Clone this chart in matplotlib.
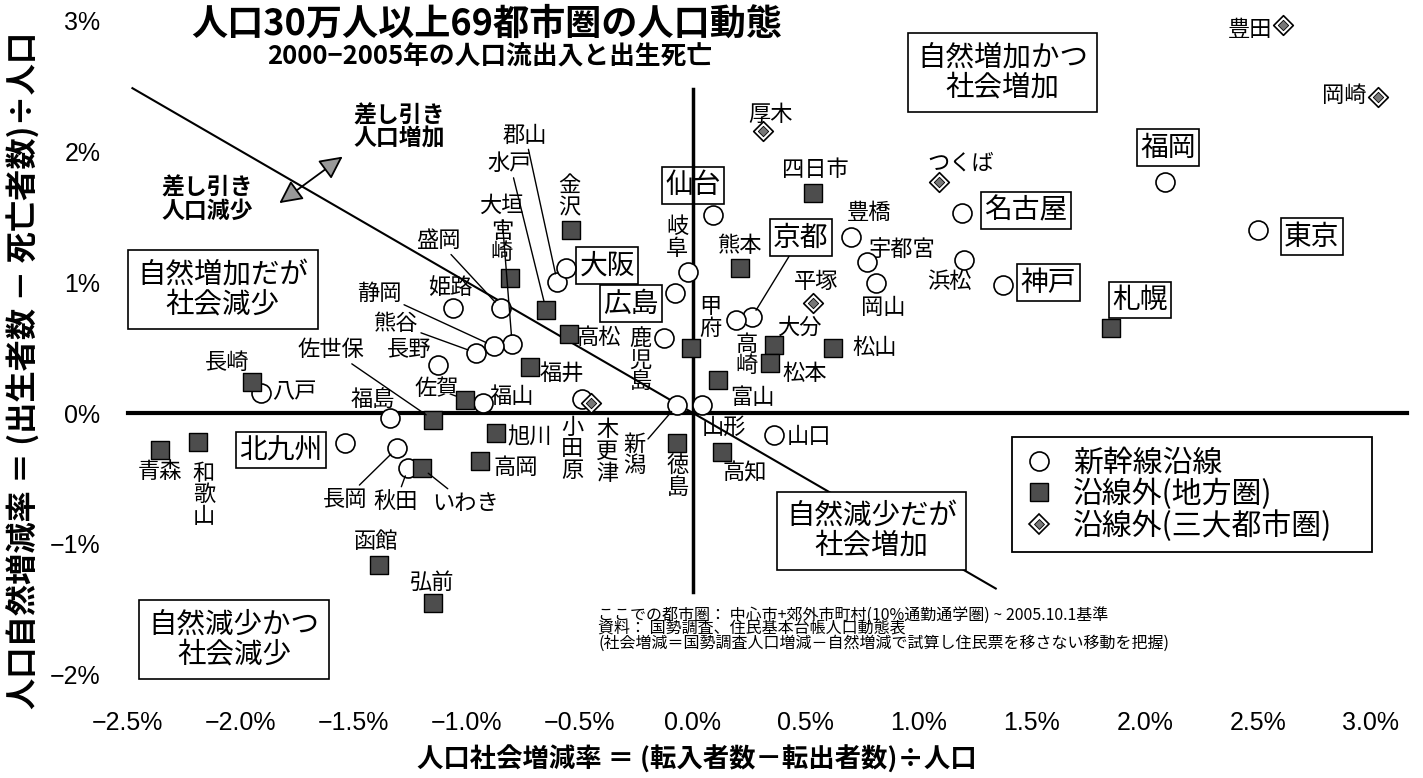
import matplotlib
matplotlib.use("Agg")
import matplotlib.pyplot as plt
from matplotlib.lines import Line2D
from matplotlib.legend_handler import HandlerTuple

plt.rcParams['font.family'] = ['Noto Sans CJK JP', 'DejaVu Sans']

# ---------------- data ----------------
# 新幹線沿線 (circles)
shin_names = ['仙台', '郡山', '大阪', '姫路', '盛岡', '大垣', '静岡', '熊谷', '長野', '福山',
              '福島', '八戸', '北九州', '長岡', '秋田', '広島', '岐阜', '鹿児島', '新潟', '山形',
              '小田原', '京都', '高崎', '名古屋', '豊橋', '宇都宮', '岡山', '浜松', '神戸', '山口',
              '福岡', '東京']
shin_x = [0.09, -0.60, -0.56, -1.06, -0.85, -0.80, -0.88, -0.96, -1.13, -0.93,
          -1.34, -1.91, -1.54, -1.31, -1.26, -0.08, -0.02, -0.13, -0.07, 0.04,
          -0.49, 0.26, 0.19, 1.19, 0.70, 0.77, 0.81, 1.20, 1.37, 0.36,
          2.09, 2.50]
shin_y = [1.51, 1.00, 1.11, 0.80, 0.80, 0.53, 0.51, 0.46, 0.37, 0.08,
          -0.04, 0.15, -0.23, -0.27, -0.42, 0.92, 1.08, 0.57, 0.06, 0.06,
          0.11, 0.73, 0.71, 1.53, 1.34, 1.15, 0.99, 1.17, 0.98, -0.17,
          1.76, 1.40]

# 沿線外(地方圏) (squares)
local_names = ['金沢', '水戸', '宮崎', '佐世保', '佐賀', '長崎', '青森', '和歌山', 'いわき', '函館',
               '弘前', '高松', '福井', '甲府', '旭川', '高岡', '徳島', '富山', '高知', '大分',
               '松本', '熊本', '四日市', '松山', '札幌']
local_x = [-0.54, -0.65, -0.81, -1.15, -1.01, -1.95, -2.36, -2.19, -1.20, -1.39,
           -1.15, -0.55, -0.72, -0.01, -0.87, -0.94, -0.07, 0.11, 0.13, 0.36,
           0.34, 0.21, 0.53, 0.62, 1.85]
local_y = [1.40, 0.79, 1.03, -0.05, 0.10, 0.24, -0.28, -0.22, -0.42, -1.16,
           -1.45, 0.60, 0.35, 0.50, -0.15, -0.37, -0.23, 0.25, -0.30, 0.52,
           0.38, 1.11, 1.68, 0.50, 0.65]

# 沿線外(三大都市圏) (diamonds)
metro_names = ['厚木', '木更津', 'つくば', '平塚', '豊田', '岡崎']
metro_x = [0.31, -0.45, 1.09, 0.53, 2.61, 3.03]
metro_y = [2.15, 0.08, 1.76, 0.84, 2.96, 2.41]

x_ticks = [-2.5, -2.0, -1.5, -1.0, -0.5, 0.0, 0.5, 1.0, 1.5, 2.0, 2.5, 3.0]
x_tick_labels = ['−2.5%', '−2.0%', '−1.5%', '−1.0%', '−0.5%', '0.0%',
                 '0.5%', '1.0%', '1.5%', '2.0%', '2.5%', '3.0%']
y_ticks = [-2, -1, 0, 1, 2, 3]
y_tick_labels = ['−2%', '−1%', '0%', '1%', '2%', '3%']

legend_labels = ['新幹線沿線', '沿線外(地方圏)', '沿線外(三大都市圏)']

# label layout: offset in pixels (dx, dy up) from the marker, and style
label_layout = {
    '仙台': (-20, 30, 'box'), '郡山': (-32, 147, 'lead'), '大阪': (41, 2, 'box'),
    '姫路': (-3, 21, 'plain'), '盛岡': (-63, 68, 'lead'), '大垣': (-11, 138, 'lead'),
    '静岡': (-115, 53, 'lead'), '熊谷': (-80, 29, 'lead'), '長野': (-28, 15, 'plain'),
    '福山': (29, 6, 'plain'), '福島': (-17, 19, 'plain'), '八戸': (33, 2, 'plain'),
    '北九州': (-64, -7, 'box'), '長岡': (-52, -51, 'lead'), '秋田': (-12, -33, 'lead'),
    '広島': (-44, -11, 'box'), '岐阜': (-11, 34, 'vert'), '鹿児島': (-23, -22, 'vert'),
    '新潟': (-43, -50, 'vlead'), '山形': (22, -22, 'plain'), '小田原': (-10, -50, 'vert'),
    '京都': (49, 80, 'boxlead'), '高崎': (11, -35, 'vert'), '名古屋': (64, 2, 'box'),
    '豊橋': (18, 25, 'plain'), '宇都宮': (35, 12, 'plain'), '岡山': (7, -24, 'plain'),
    '浜松': (-15, -22, 'plain'), '神戸': (46, 2, 'box'), '山口': (35, -1, 'plain'),
    '福岡': (3, 35, 'box'), '東京': (54, -7, 'box'),
    '金沢': (-2, 33, 'vert'), '水戸': (-36, 146, 'lead'), '宮崎': (-8, 36, 'vert'),
    '佐世保': (-102, 70, 'lead'), '佐賀': (-28, 11, 'plain'), '長崎': (-25, 19, 'plain'),
    '青森': (0, -22, 'plain'), '和歌山': (6, -53, 'vert'), 'いわき': (44, -35, 'lead'),
    '函館': (-3, 23, 'plain'), '弘前': (-1, 21, 'plain'), '高松': (30, -3, 'plain'),
    '福井': (32, -6, 'plain'), '甲府': (20, 30, 'vert'), '旭川': (33, -4, 'plain'),
    '高岡': (35, -6, 'plain'), '徳島': (1, -34, 'vert'), '富山': (35, -17, 'plain'),
    '高知': (23, -21, 'plain'), '大分': (25, 18, 'plain'), '松本': (35, -10, 'plain'),
    '熊本': (0, 22, 'plain'), '四日市': (3, 23, 'plain'), '松山': (42, 0, 'plain'),
    '札幌': (29, 28, 'box'),
    '厚木': (8, 17, 'plain'), '木更津': (16, -49, 'vert'), 'つくば': (22, 19, 'plain'),
    '平塚': (3, 22, 'plain'), '豊田': (-33, -4, 'plain'), '岡崎': (-33, 2, 'plain'),
}

# ---------------- figure ----------------
W, H = 1423, 778
fig = plt.figure(figsize=(W / 100, H / 100), dpi=100)
fig.patch.set_facecolor('white')
ax = fig.add_axes([120 / W, 1 - 700 / H, 1290 / W, 695 / H])
ax.set_xlim(-2.535, 3.173)
ax.set_ylim(-2.191, 3.115)
for s in ax.spines.values():
    s.set_visible(False)

ax.set_xticks(x_ticks)
ax.set_xticklabels(x_tick_labels, fontfamily='Liberation Sans', fontsize=18)
ax.set_yticks(y_ticks)
ax.set_yticklabels(y_tick_labels, fontfamily='Liberation Sans', fontsize=18)
ax.tick_params(axis='x', length=0, pad=8)
ax.tick_params(axis='y', length=0, pad=14)

# axes cross lines and zero-net-change line (y = -x)
ax.plot([-2.50, 3.16], [0, 0], color='black', lw=3, zorder=2)
ax.plot([0, 0], [-1.37, 2.47], color='black', lw=2.5, zorder=2)
ax.plot([-2.48, 1.34], [2.48, -1.34], color='black', lw=1.5, zorder=2)

# markers
ax.scatter(shin_x, shin_y, s=187, marker='o', facecolor='white', edgecolor='black',
           linewidths=1.2, zorder=4)
ax.scatter(local_x, local_y, s=169, marker='s', facecolor='#4d4d4d', edgecolor='black',
           linewidths=1.0, zorder=4)
ax.scatter(metro_x, metro_y, s=100, marker='D', facecolor='white', edgecolor='black',
           linewidths=1.2, zorder=4)
ax.scatter(metro_x, metro_y, s=28, marker='D', facecolor='#777777', edgecolor='black',
           linewidths=0.6, zorder=5)


def put_labels(names, xs, ys):
    for n, x, y in zip(names, xs, ys):
        dx, dy, kind = label_layout[n]
        txt = '\n'.join(n) if kind in ('vert', 'vlead') else n
        kw = dict(xy=(x, y), xytext=(dx * 0.72, dy * 0.72), textcoords='offset points',
                  ha='center', va='center', fontsize=16, zorder=6, linespacing=0.92)
        if 'box' in kind:
            kw['fontsize'] = 20
            kw['bbox'] = dict(boxstyle='square,pad=0.12', fc='none', ec='black', lw=1.2)
        if kind in ('lead', 'vlead', 'boxlead'):
            kw['arrowprops'] = dict(arrowstyle='-', lw=1.0, color='black',
                                    shrinkA=0, shrinkB=6)
        ax.annotate(txt, **kw)


put_labels(shin_names, shin_x, shin_y)
put_labels(local_names, local_x, local_y)
put_labels(metro_names, metro_x, metro_y)

# quadrant boxes
quad_box = dict(boxstyle='square,pad=0.33', fc='white', ec='black', lw=1.2)
ax.text(1.37, 2.60, '自然増加かつ\n社会増加', ha='center', va='center', fontsize=20.5,
        linespacing=1.0, bbox=quad_box, zorder=7)
ax.text(-2.08, 0.94, '自然増加だが\n社会減少', ha='center', va='center', fontsize=20.5,
        linespacing=1.0, bbox=quad_box, zorder=7)
ax.text(-2.03, -1.73, '自然減少かつ\n社会減少', ha='center', va='center', fontsize=20.5,
        linespacing=1.0, bbox=quad_box, zorder=7)
ax.text(0.79, -0.90, '自然減少だが\n社会増加', ha='center', va='center', fontsize=20.5,
        linespacing=1.0, bbox=quad_box, zorder=7)

# direction arrow
ax.annotate('', xy=(-1.54, 1.97), xytext=(-1.84, 1.59),
            arrowprops=dict(arrowstyle='<|-|>,head_length=0.7,head_width=0.35',
                            mutation_scale=20, lw=1.3, color='black', fc='#999999'),
            zorder=6)
ax.text(-1.30, 2.18, '差し引き\n人口増加', ha='center', va='center', fontsize=16.5,
        fontweight='bold', linespacing=1.0, zorder=6)
ax.text(-2.15, 1.63, '差し引き\n人口減少', ha='center', va='center', fontsize=16.5,
        fontweight='bold', linespacing=1.0, zorder=6)

# legend (expanded to the reference box width)
h_circle = Line2D([], [], marker='o', ms=13.7, mfc='white', mec='black', mew=1.2, ls='')
h_square = Line2D([], [], marker='s', ms=13, mfc='#4d4d4d', mec='black', mew=1.0, ls='')
h_dia_o = Line2D([], [], marker='D', ms=10, mfc='white', mec='black', mew=1.2, ls='')
h_dia_i = Line2D([], [], marker='D', ms=5.3, mfc='#777777', mec='black', mew=0.6, ls='')
leg = ax.legend([h_circle, h_square, (h_dia_o, h_dia_i)], legend_labels,
                handler_map={tuple: HandlerTuple(ndivide=1)},
                loc='upper left',
                bbox_to_anchor=(1012 / W, 1 - 560 / H, 360 / W, 123 / H),
                bbox_transform=fig.transFigure, borderaxespad=0, mode='expand',
                fontsize=21.5, frameon=True, fancybox=False, edgecolor='black',
                framealpha=1, handlelength=1.1, handletextpad=0.6,
                labelspacing=0.0, borderpad=0.35)
leg.get_frame().set_linewidth(1.3)
leg.set_zorder(8)

# titles
fig.text(487 / W, 1 - 24 / H, '人口30万人以上69都市圏の人口動態', ha='center', va='center',
         fontsize=26, fontweight='bold')
fig.text(490 / W, 1 - 57 / H, '2000−2005年の人口流出入と出生死亡', ha='center', va='center',
         fontsize=18.5, fontweight='bold')

# axis titles
fig.text(697 / W, 1 - 760 / H, '人口社会増減率 ＝ (転入者数－転出者数)÷人口', ha='center',
         va='center', fontsize=19, fontweight='bold')
fig.text(24 / W, 1 - 370 / H, '人口自然増減率 ＝ (出生者数 － 死亡者数)÷人口', ha='center',
         va='center', fontsize=22.5, fontweight='bold', rotation=90)

# notes (one block)
notes = ['ここでの都市圏： 中心市+郊外市町村(10%通勤通学圏) ~ 2005.10.1基準',
         '資料： 国勢調査、住民基本台帳人口動態表',
         '(社会増減＝国勢調査人口増減－自然増減で試算し住民票を移さない移動を把握)']
fig.text(598 / W, 1 - 607 / H, '\n'.join(notes), ha='left', va='top', fontsize=11.5,
         linespacing=0.76)

fig.savefig('out.png', dpi=100, facecolor='white')
